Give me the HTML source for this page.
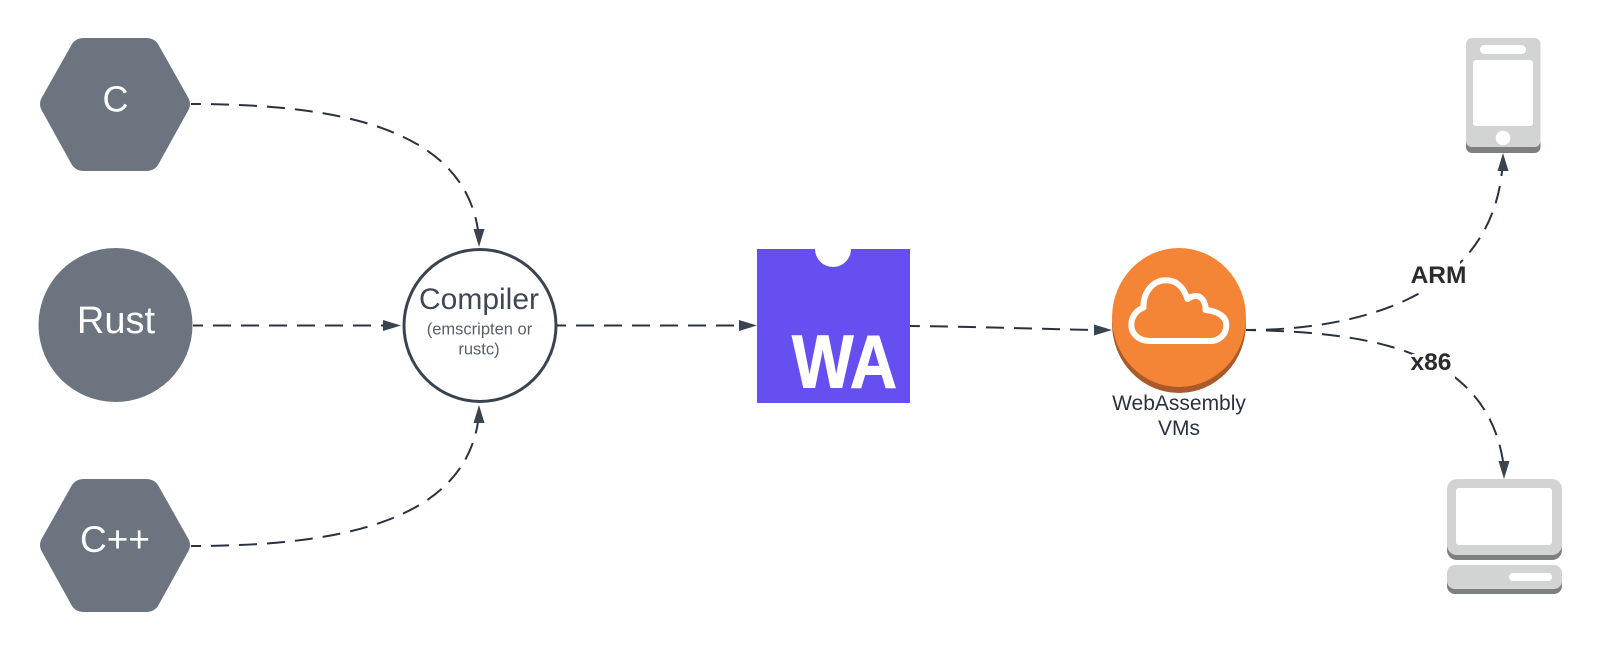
<!DOCTYPE html>
<html>
<head>
<meta charset="utf-8">
<style>
html,body{margin:0;padding:0;background:#fff;width:1600px;height:650px;overflow:hidden}
svg{display:block}
text{font-family:"Liberation Sans",sans-serif}
.d{fill:none;stroke:#2a3240;stroke-width:2;stroke-dasharray:18 10;stroke-dashoffset:8}
.a{fill:#3a4350}
</style>
</head>
<body>
<svg width="1600" height="650" viewBox="0 0 1600 650" xmlns="http://www.w3.org/2000/svg">
<rect width="1600" height="650" fill="#fff"/>

<!-- connectors -->
<path class="d" d="M191 104 C330 104 462 125 478 230"/>
<path class="a" d="M479 247 L473.500 229 L484.500 229 Z"/>
<path class="d" d="M191 546 C330 546 462 525 478 422"/>
<path class="a" d="M479 405 L473.500 423 L484.500 423 Z"/>
<path class="d" d="M193 325.500 L383 325.500"/>
<path class="a" d="M401 325.500 L383 320 L383 331 Z"/>
<path class="d" d="M556 325.500 L739 325.500"/>
<path class="a" d="M757 325.500 L739 320 L739 331 Z"/>
<path class="d" d="M910 326 C970 326.500 1040 329 1094 330"/>
<path class="a" d="M1112 330 L1094 324.500 L1094 335.500 Z"/>
<path class="d" d="M1246 330 C1370 330 1490 290 1502 171"/>
<path class="a" d="M1503 153 L1497.500 171 L1508.500 171 Z"/>
<path class="d" d="M1246 330 C1370 332 1485 350 1503 461"/>
<path class="a" d="M1504 479 L1498.500 461 L1509.500 461 Z"/>

<!-- connector labels -->
<rect x="1413" y="260" width="47" height="33" fill="#fff"/>
<text x="1438.500" y="283" font-size="24.500" font-weight="700" fill="#2b2b2b" text-anchor="middle">ARM</text>
<rect x="1412" y="354" width="43" height="28" fill="#fff"/>
<text x="1431" y="370" font-size="24.500" font-weight="700" fill="#2b2b2b" text-anchor="middle">x86</text>

<!-- C hexagon -->
<path fill="#6c747f" d="M41 99 L72 44 Q76 38 84 38 L146 38 Q154 38 158 44 L189 99 Q191 104 189 109 L158 165 Q154 171 146 171 L84 171 Q76 171 72 165 L41 109 Q39 104 41 99 Z"/>
<text x="115.500" y="111.500" font-size="36" fill="#fff" text-anchor="middle">C</text>

<!-- Rust -->
<circle cx="115.500" cy="325" r="77" fill="#6c747f"/>
<text x="116" y="333" font-size="38" fill="#fff" text-anchor="middle">Rust</text>

<!-- C++ hexagon -->
<path fill="#6c747f" transform="translate(0,441)" d="M41 99 L72 44 Q76 38 84 38 L146 38 Q154 38 158 44 L189 99 Q191 104 189 109 L158 165 Q154 171 146 171 L84 171 Q76 171 72 165 L41 109 Q39 104 41 99 Z"/>
<text x="115" y="552" font-size="37" fill="#fff" text-anchor="middle">C++</text>

<!-- Compiler -->
<circle cx="480" cy="325.500" r="76" fill="#fff" stroke="#3a4350" stroke-width="3"/>
<text x="479" y="309" font-size="30" fill="#3f4754" text-anchor="middle">Compiler</text>
<text x="479.500" y="334.500" font-size="16.500" fill="#5a606b" text-anchor="middle">(emscripten or</text>
<text x="479" y="354.500" font-size="16.500" fill="#5a606b" text-anchor="middle">rustc)</text>

<!-- WA logo -->
<path fill="#654ff0" d="M757 249 L815 249 A18 18 0 0 0 851 249 L910 249 L910 403 L757 403 Z"/>
<text x="792" y="387.500" font-size="75" font-weight="700" fill="#fff" stroke="#fff" stroke-width="1" textLength="105" lengthAdjust="spacingAndGlyphs">WA</text>

<!-- VM -->
<ellipse cx="1179" cy="323.500" rx="67" ry="69.500" fill="#a9592a"/>
<ellipse cx="1179" cy="317.500" rx="67" ry="69.500" fill="#f58536"/>
<path fill="none" stroke="#fff" stroke-width="6" stroke-linejoin="round" d="M1150 341 C1139 341 1131.300 334 1131.300 325 C1131.300 316 1137 310 1143.500 307.500 C1143 292 1153 280.300 1166 280.300 C1177 280.300 1184 288 1187.500 299 C1190 297 1193 296 1196 296 C1202 296 1206 303 1205.500 310 C1217 311 1226.300 316 1226.300 325 C1226.300 335 1219 341 1210 341 Z"/>
<text x="1179" y="410" font-size="21" fill="#2a3240" text-anchor="middle">WebAssembly</text>
<text x="1179" y="435" font-size="21" fill="#2a3240" text-anchor="middle">VMs</text>

<!-- Phone -->
<rect x="1466" y="42" width="74.500" height="111" rx="6" fill="#7d8080"/>
<rect x="1466" y="38" width="74.500" height="109" rx="6" fill="#d2d4d4"/>
<rect x="1480" y="45" width="46" height="9" rx="4.500" fill="#fff"/>
<rect x="1473" y="60" width="60" height="66" rx="3" fill="#fff"/>
<circle cx="1503" cy="138" r="7.300" fill="#fff"/>

<!-- Laptop -->
<rect x="1447" y="485" width="115" height="75" rx="10" fill="#7d8080"/>
<rect x="1447" y="479" width="115" height="76" rx="10" fill="#d2d4d4"/>
<rect x="1456" y="488" width="96" height="57" rx="3" fill="#fff"/>
<rect x="1447" y="570" width="115" height="24" rx="8" fill="#7d8080"/>
<rect x="1447" y="565" width="115" height="24" rx="8" fill="#d2d4d4"/>
<rect x="1509" y="573" width="43" height="8" rx="4" fill="#fff"/>
</svg>
</body>
</html>
